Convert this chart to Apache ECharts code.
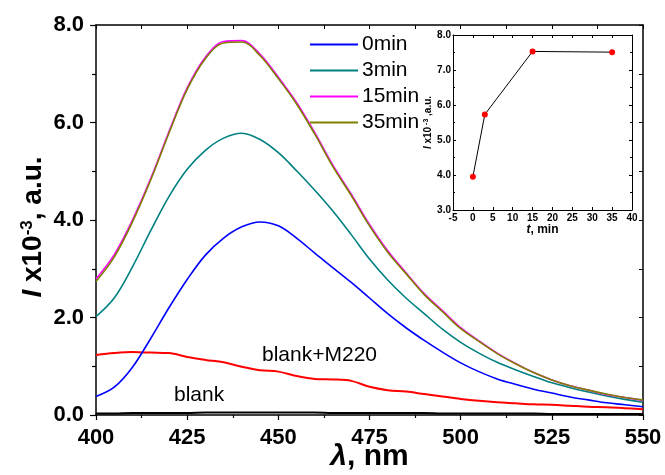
<!DOCTYPE html>
<html>
<head>
<meta charset="utf-8">
<script src="https://cdn.jsdelivr.net/npm/echarts@6/dist/echarts.min.js"></script>
<style>
  html, body { margin: 0; padding: 0; background: #fff; }
  #chart { width: 665px; height: 475px; }
</style>
</head>
<body>
<div id="chart"></div>
<script>
// Emission spectra, intensity in units of 10^-3 (a.u.)
const wavelengths = [400, 405, 410, 415, 420, 425, 430, 435, 440, 445, 450, 455, 460, 465, 470,
                     475, 480, 485, 490, 495, 500, 505, 510, 515, 520, 525, 530, 535, 540, 545, 550];
const int0min  = [0.38, 0.57, 0.98, 1.57, 2.20, 2.78, 3.28, 3.63, 3.86, 3.96, 3.88, 3.63, 3.32, 3.02, 2.72,
                  2.40, 2.08, 1.79, 1.53, 1.29, 1.07, 0.89, 0.74, 0.63, 0.53, 0.45, 0.37, 0.31, 0.25, 0.21, 0.17];
const int3min  = [2.02, 2.40, 3.04, 3.78, 4.48, 5.04, 5.43, 5.68, 5.78, 5.65, 5.38, 5.01, 4.61, 4.18, 3.70,
                  3.20, 2.77, 2.40, 2.08, 1.76, 1.49, 1.27, 1.08, 0.93, 0.79, 0.66, 0.56, 0.47, 0.39, 0.32, 0.26];
const int15min = [2.79, 3.29, 4.00, 4.85, 5.81, 6.71, 7.34, 7.66, 7.68, 7.40, 6.93, 6.41, 5.79, 5.12, 4.53,
                  3.91, 3.37, 2.92, 2.49, 2.14, 1.79, 1.52, 1.27, 1.06, 0.87, 0.72, 0.60, 0.51, 0.42, 0.36, 0.30];
const int35min = [2.74, 3.24, 3.96, 4.82, 5.78, 6.68, 7.31, 7.63, 7.65, 7.37, 6.90, 6.38, 5.76, 5.09, 4.50,
                  3.88, 3.34, 2.90, 2.47, 2.12, 1.77, 1.51, 1.26, 1.05, 0.87, 0.72, 0.60, 0.51, 0.43, 0.36, 0.31];
const intBlankM220 = [1.23, 1.27, 1.29, 1.28, 1.27, 1.19, 1.13, 1.08, 0.99, 0.92, 0.89, 0.80, 0.74, 0.73, 0.70,
                      0.58, 0.51, 0.48, 0.43, 0.38, 0.33, 0.29, 0.26, 0.24, 0.22, 0.21, 0.19, 0.17, 0.16, 0.14, 0.12];
const intBlank = [0.03, 0.03, 0.04, 0.04, 0.04, 0.04, 0.05, 0.05, 0.05, 0.05, 0.05, 0.05, 0.05, 0.04, 0.04,
                  0.04, 0.04, 0.04, 0.04, 0.03, 0.03, 0.03, 0.03, 0.03, 0.03, 0.02, 0.02, 0.02, 0.02, 0.02, 0.02];

// Inset: peak intensity versus time
const insetTimes = [0, 3, 15, 35];
const insetPeaks = [3.95, 5.73, 7.53, 7.51];

const seriesNames = ['0min', '3min', '15min', '35min'];
const curveLabels = ['blank+M220', 'blank'];

const FONT = '"Liberation Sans", Arial, sans-serif';
const pair = arr => wavelengths.map((w, i) => [w, arr[i]]);

function spectrum(name, arr, color, width, z) {
  return {
    name: name, type: 'line', data: pair(arr), xAxisIndex: 0, yAxisIndex: 0,
    symbol: 'none', smooth: 0.35, z: z,
    lineStyle: { color: color, width: width }, itemStyle: { color: color }
  };
}

const black = '#000';
const frameLine = { show: true, onZero: false, lineStyle: { color: black, width: 1.5 } };

const chart = echarts.init(document.getElementById('chart'), null, { renderer: 'canvas' });
chart.setOption({
  animation: false,
  backgroundColor: '#fff',
  grid: [
    { left: 96, right: 22, top: 25, bottom: 60, outerBoundsMode: 'none', containLabel: false },
    { left: 453, top: 35, width: 179, height: 175, outerBoundsMode: 'none', containLabel: false }
  ],
  legend: {
    data: seriesNames,
    orient: 'vertical', left: 305, top: 29,
    icon: 'rect', itemWidth: 48, itemHeight: 2, itemGap: 5,
    textStyle: { fontSize: 21, color: black, fontFamily: FONT, padding: [0, 0, 0, -1] }
  },
  xAxis: [
    {
      type: 'value', gridIndex: 0, position: 'bottom', min: 400, max: 550, interval: 25,
      axisLine: frameLine,
      axisTick: { show: true, inside: false, length: 5, lineStyle: { color: black, width: 1.2 } },
      minorTick: { show: true, splitNumber: 2, length: 3, lineStyle: { color: black, width: 1.2 } },
      axisLabel: { fontSize: 22, fontWeight: 'bold', color: black, fontFamily: FONT, margin: 12 },
      splitLine: { show: false },
      name: '{i|λ}{n|, nm}', nameLocation: 'middle', nameGap: 27, nameMoveOverlap: false,
      nameTextStyle: {
        fontFamily: FONT, color: black, fontWeight: 'bold',
        rich: {
          i: { fontSize: 30, fontStyle: 'italic', fontWeight: 'bold', fontFamily: FONT },
          n: { fontSize: 30, fontWeight: 'bold', fontFamily: FONT }
        }
      }
    },
    {
      type: 'value', gridIndex: 0, position: 'top', min: 400, max: 550, interval: 25,
      axisLine: frameLine,
      axisTick: { show: true, inside: true, length: 4, lineStyle: { color: black } },
      minorTick: { show: true, splitNumber: 2, length: 4, lineStyle: { color: black } },
      axisLabel: { show: false }, splitLine: { show: false }
    },
    {
      type: 'value', gridIndex: 1, position: 'bottom', min: -5, max: 40, interval: 5,
      axisLine: { show: true, onZero: false, lineStyle: { color: black, width: 1 } },
      axisTick: { show: true, inside: true, length: 3, lineStyle: { color: black } },
      minorTick: { show: false },
      axisLabel: { fontSize: 10, fontWeight: 'bold', color: black, fontFamily: FONT, margin: 3 },
      splitLine: { show: false },
      name: '{i|t}{n|, min}', nameLocation: 'middle', nameGap: 14,
      nameTextStyle: {
        color: black, fontFamily: FONT,
        rich: {
          i: { fontSize: 12, fontStyle: 'italic', fontWeight: 'bold', fontFamily: FONT },
          n: { fontSize: 12, fontWeight: 'bold', fontFamily: FONT }
        }
      }
    },
    {
      type: 'value', gridIndex: 1, position: 'top', min: -5, max: 40, interval: 5,
      axisLine: { show: true, onZero: false, lineStyle: { color: black, width: 1 } },
      axisTick: { show: true, inside: true, length: 3, lineStyle: { color: black } },
      axisLabel: { show: false }, splitLine: { show: false }
    }
  ],
  yAxis: [
    {
      type: 'value', gridIndex: 0, position: 'left', min: 0, max: 8, interval: 2,
      axisLine: frameLine,
      axisTick: { show: true, inside: false, length: 6, lineStyle: { color: black, width: 1.2 } },
      minorTick: { show: true, splitNumber: 2, length: 4, lineStyle: { color: black, width: 1.2 } },
      axisLabel: {
        fontSize: 22, fontWeight: 'bold', color: black, fontFamily: FONT, margin: 12,
        formatter: v => v.toFixed(1)
      },
      splitLine: { show: false }
    },
    {
      type: 'value', gridIndex: 0, position: 'right', min: 0, max: 8, interval: 2,
      axisLine: frameLine,
      axisTick: { show: true, inside: true, length: 4, lineStyle: { color: black } },
      minorTick: { show: true, splitNumber: 2, length: 4, lineStyle: { color: black } },
      axisLabel: { show: false }, splitLine: { show: false }
    },
    {
      type: 'value', gridIndex: 1, position: 'left', min: 3, max: 8, interval: 1,
      axisLine: { show: true, onZero: false, lineStyle: { color: black, width: 1 } },
      axisTick: { show: true, inside: true, length: 3, lineStyle: { color: black } },
      minorTick: { show: true, splitNumber: 2, length: 2, lineStyle: { color: black } },
      axisLabel: {
        fontSize: 10, fontWeight: 'bold', color: black, fontFamily: FONT, margin: 2,
        formatter: v => v.toFixed(1)
      },
      splitLine: { show: false },
      name: '{i|I}{n| x10}{s| -3}{n| ,a.u.}', nameLocation: 'middle', nameGap: 20, nameRotate: 90,
      nameTextStyle: {
        color: black, fontFamily: FONT,
        rich: {
          i: { fontSize: 10, fontStyle: 'italic', fontWeight: 'bold', fontFamily: FONT },
          n: { fontSize: 10, fontWeight: 'bold', fontFamily: FONT },
          s: { fontSize: 7, fontWeight: 'bold', fontFamily: FONT, verticalAlign: 'top' }
        }
      }
    },
    {
      type: 'value', gridIndex: 1, position: 'right', min: 3, max: 8, interval: 1,
      axisLine: { show: true, onZero: false, lineStyle: { color: black, width: 1 } },
      axisTick: { show: true, inside: true, length: 3, lineStyle: { color: black } },
      minorTick: { show: true, splitNumber: 2, length: 2, lineStyle: { color: black } },
      axisLabel: { show: false }, splitLine: { show: false }
    }
  ],
  series: [
    spectrum('blank', intBlank, '#000000', 2, 2),
    spectrum('blank+M220', intBlankM220, '#ff0000', 2, 3),
    spectrum(seriesNames[0], int0min, '#0000ff', 1.6, 4),
    spectrum(seriesNames[1], int3min, '#008080', 1.6, 5),
    spectrum(seriesNames[2], int15min, '#ff00ff', 1.6, 6),
    spectrum(seriesNames[3], int35min, '#808000', 1.6, 7),
    {
      name: 'inset', type: 'line', xAxisIndex: 2, yAxisIndex: 2,
      data: insetTimes.map((t, i) => [t, insetPeaks[i]]),
      symbol: 'circle', symbolSize: 6, z: 8,
      lineStyle: { color: '#000', width: 1 },
      itemStyle: { color: '#ff0000' }
    }
  ],
  graphic: [
    {
      // vertical axis title, reading bottom to top
      type: 'text', x: 33, y: 227, rotation: Math.PI / 2, z: 20,
      style: {
        text: '{i|I}{n| x10}{s|-3}{n|, a.u.}', align: 'center', verticalAlign: 'middle', fill: black,
        rich: {
          i: { font: 'italic bold 28px ' + FONT },
          n: { font: 'bold 28px ' + FONT },
          s: { font: 'bold 17px ' + FONT, verticalAlign: 'top' }
        }
      }
    },
    {
      type: 'text', left: 262, top: 345, z: 20,
      style: { text: curveLabels[0], font: '21px ' + FONT, fill: black }
    },
    {
      type: 'text', left: 174, top: 385, z: 20,
      style: { text: curveLabels[1], font: '21px ' + FONT, fill: black }
    }
  ]
});
</script>
</body>
</html>
